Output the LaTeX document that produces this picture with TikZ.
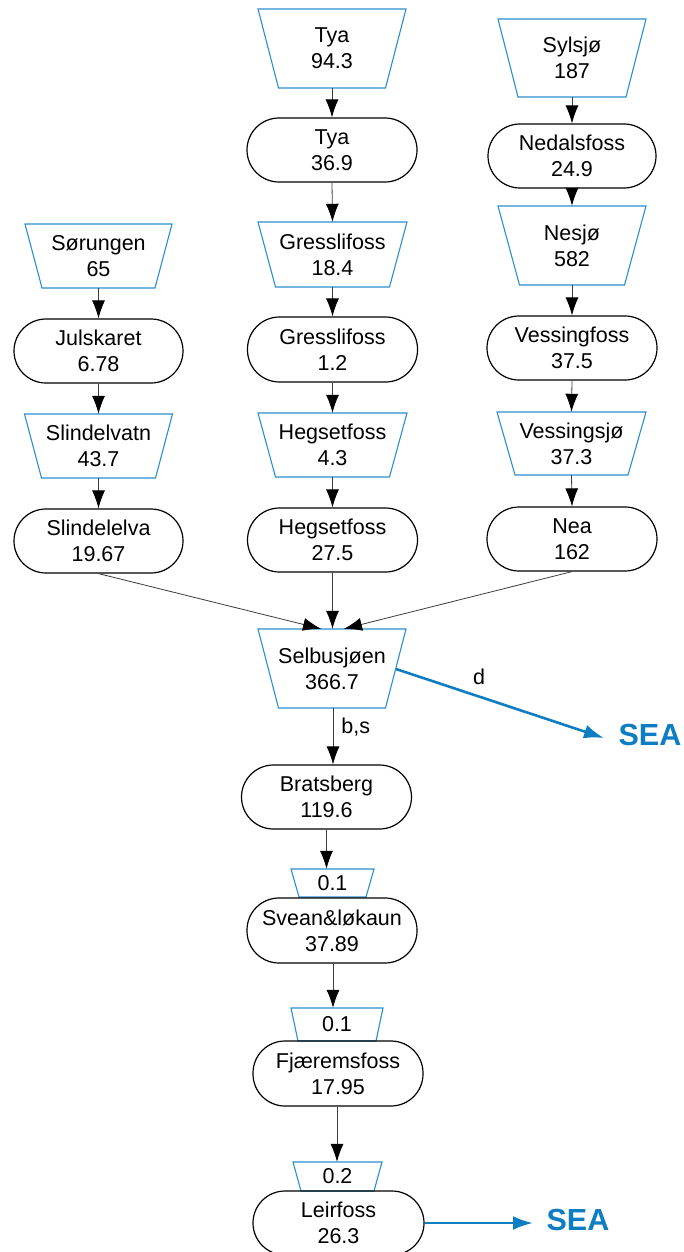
\documentclass[tikz,border=0pt]{standalone}
\usepackage{fontspec}
\setmainfont{Liberation Sans}
\usetikzlibrary{arrows.meta,calc}
\definecolor{trapblue}{RGB}{42,143,208}
\definecolor{seablue}{RGB}{14,125,194}
\definecolor{conn}{RGB}{60,60,60}
\tikzset{
  lbl/.style={font=\fontsize{21.5}{26}\selectfont, align=center, inner sep=0pt},
  trapbox/.style={lbl, draw=none},
  trapline/.style={draw=trapblue, line width=1.1pt},
  stadium/.style={lbl, draw=black, line width=1.2pt, rounded corners=32pt, minimum width=169pt, minimum height=64pt},
  flow/.style={draw=conn, line width=0.8pt, -{Latex[length=18pt,width=13pt,color=black]}},
  seaflow/.style={draw=seablue, line width=2.6pt, -{Latex[length=20pt,width=14pt]}},
  seatext/.style={font=\fontsize{30.5}{34}\selectfont\bfseries, text=seablue, inner sep=0pt},
  edgelbl/.style={font=\fontsize{21.5}{26}\selectfont, inner sep=0pt}
}
\newcommand\trapnode[7]{%
  \node[trapbox, minimum width=#4pt, minimum height=#6pt] (#1) at (#2,#3) {#7};
  \draw[trapline] ({#2-#4/2},{#3-#6/2}) -- ({#2+#4/2},{#3-#6/2}) -- ({#2+#5/2},{#3+#6/2}) -- ({#2-#5/2},{#3+#6/2}) -- cycle;
}
\begin{document}
\begin{tikzpicture}[x=1pt,y=-1pt]
\useasboundingbox (0,0) rectangle (684,1252);
% column 1
\trapnode{sor}{98.5}{256}{147}{113}{64}{Sørungen\\65}
\node[stadium] (jul) at (98.5,351) {Julskaret\\6.78};
\trapnode{sva}{98.5}{446}{148}{114}{64}{Slindelvatn\\43.7}
\node[stadium] (sle) at (98.5,541) {Slindelelva\\19.67};
% column 2
\trapnode{tyat}{332}{48.5}{148}{107}{79}{Tya\\94.3}
\node[stadium, minimum width=170pt] (tyas) at (332,150) {Tya\\36.9};
\trapnode{grt}{332.5}{254.5}{149}{114}{65}{Gresslifoss\\18.4}
\node[stadium, minimum width=170pt, minimum height=65pt] (grs) at (332.5,349.5) {Gresslifoss\\1.2};
\trapnode{het}{332.5}{445}{149}{114}{64}{Hegsetfoss\\4.3}
\node[stadium, minimum width=170pt] (hes) at (332.5,540) {Hegsetfoss\\27.5};
% column 3
\trapnode{syl}{572}{58}{148}{108}{78}{Sylsjø\\187}
\node[stadium, minimum width=168pt] (ned) at (572,156) {Nedalsfoss\\24.9};
\trapnode{nes}{572}{245.5}{148}{105}{79}{Nesjø\\582}
\node[stadium, minimum width=170pt] (vef) at (572,348) {Vessingfoss\\37.5};
\trapnode{ves}{571.5}{443.5}{149}{113}{63}{Vessingsjø\\37.3}
\node[stadium, minimum width=170pt] (nea) at (572,539) {Nea\\162};
% main stem
\trapnode{sel}{332}{668.5}{148}{107}{79}{Selbusjøen\\366.7}
\node[stadium, minimum width=170pt] (bra) at (326.5,797) {Bratsberg\\119.6};
\trapnode{ta}{332.5}{883}{83}{67}{28}{0.1}
\node[stadium, minimum width=170pt, minimum height=65pt] (sve) at (332,930.5) {Svean\&løkaun\\37.89};
\trapnode{tb}{337}{1024.5}{92}{78}{33}{0.1}
\node[stadium, minimum width=170pt, minimum height=65pt] (fja) at (338,1073.5) {Fjæremsfoss\\17.95};
\trapnode{tc}{337.5}{1176.5}{89}{73}{29}{0.2}
\node[stadium, minimum width=171pt] (lei) at (338.5,1223) {Leirfoss\\26.3};
% SEA
\node[seatext] (seaa) at (650,735) {SEA};
\node[seatext] (seab) at (578,1220) {SEA};
\coordinate (selr) at (396,669);
\coordinate (seaaend) at (604,738);
\coordinate (seabend) at (533,1223);
% connectors column 1
\draw[flow] (sor.south) -- (jul.north);
\draw[flow] (jul.south) -- (sva.north);
\draw[flow] (sva.south) -- (sle.north);
% column 2
\draw[flow] (tyat.south) -- (tyas.north);
\draw[flow] (tyas.south) -- (grt.north);
\draw[flow] (grt.south) -- (grs.north);
\draw[flow] (grs.south) -- (het.north);
\draw[flow] (het.south) -- (hes.north);
% column 3
\draw[flow] (syl.south) -- (ned.north);
\draw[flow] (ned.south) -- (nes.north);
\draw[flow] (nes.south) -- (vef.north);
\draw[flow] (vef.south) -- (ves.north);
\draw[flow] (ves.south) -- (nea.north);
% converging
\draw[flow] (sle.south) -- ([xshift=-11pt]sel.north);
\draw[flow] (hes.south) -- ([xshift=0.5pt]sel.north);
\draw[flow] (nea.south) -- ([xshift=12pt]sel.north);
% main stem
\draw[flow] ([xshift=1pt]sel.south) -- node[edgelbl, right=8pt, pos=0.33] (bslbl) {b,s} ([xshift=1pt]sel.south |- bra.north);
\draw[flow] (bra.south) -- (bra.south |- ta.north);
\draw[flow] ([xshift=1pt]sve.south) -- ([xshift=1pt]sve.south |- tb.north);
\draw[flow] ([xshift=-1pt]fja.south) -- ([xshift=-1pt]fja.south |- tc.north);
% to sea
\draw[seaflow] (selr) -- (seaaend);
\node[edgelbl] (dlbl) at (479,677) {d};
\draw[seaflow] (lei.east) -- (seabend);
\end{tikzpicture}
\end{document}
